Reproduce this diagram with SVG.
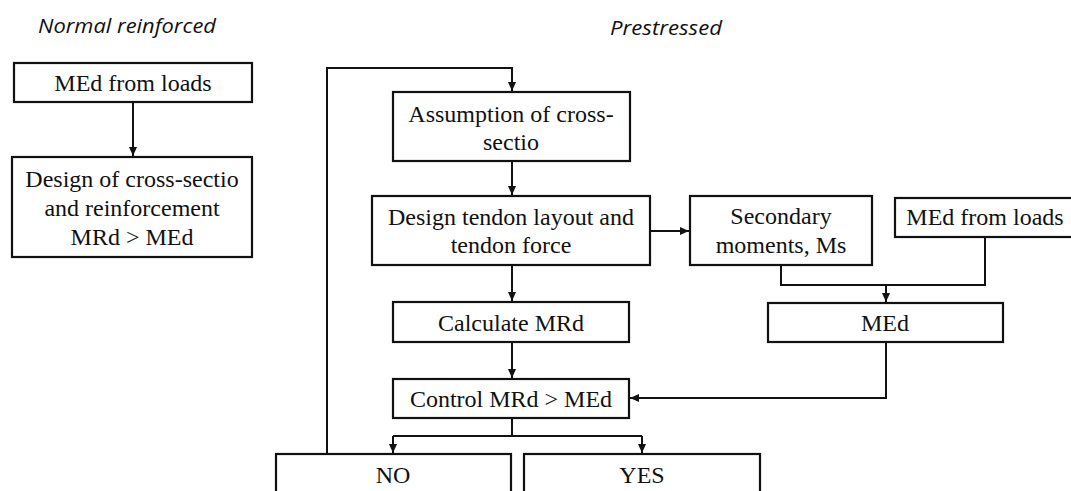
<svg xmlns="http://www.w3.org/2000/svg" width="1071" height="491" viewBox="0 0 1071 491">
<defs>
<marker id="arr" markerUnits="userSpaceOnUse" markerWidth="10" markerHeight="8" refX="9" refY="4" orient="auto">
<path d="M0,0 L9,4 L0,8 z" fill="#111"/>
</marker>
<style>
.box{fill:#fff;stroke:#111;stroke-width:2.2}
.t{font-family:"Liberation Serif","Times New Roman",serif;font-size:24px;fill:#111;text-anchor:middle}
.h{font-family:"Open Sans","DejaVu Sans",sans-serif;font-style:italic;font-size:20px;fill:#111}
.c{fill:none;stroke:#111;stroke-width:2}
</style>
</defs>
<rect width="1071" height="491" fill="#fff"/>
<text class="h" x="38" y="33" textLength="178" lengthAdjust="spacingAndGlyphs">Normal reinforced</text>
<text class="h" x="610" y="35" textLength="112" lengthAdjust="spacingAndGlyphs">Prestressed</text>
<g id="connectors">
<path class="c" d="M133,102 V156" marker-end="url(#arr)"/>
<path class="c" d="M327,454 V68 H512 V91" marker-end="url(#arr)"/>
<path class="c" d="M512,161 V195" marker-end="url(#arr)"/>
<path class="c" d="M512,265 V301" marker-end="url(#arr)"/>
<path class="c" d="M512,342 V378" marker-end="url(#arr)"/>
<path class="c" d="M650,231 H689" marker-end="url(#arr)"/>
<path class="c" d="M781,265 V285 H985 V237"/>
<path class="c" d="M886,285 V302" marker-end="url(#arr)"/>
<path class="c" d="M886,342 V398 H630" marker-end="url(#arr)"/>
<path class="c" d="M512,418 V436"/>
<path class="c" d="M393,436 H642"/>
<path class="c" d="M393,436 V453" marker-end="url(#arr)"/>
<path class="c" d="M642,436 V453" marker-end="url(#arr)"/>
</g>
<g id="n-loads-left">
<rect class="box" x="14" y="63" width="238" height="39"/>
<text class="t" x="133" y="91">MEd from loads</text>
</g>
<g id="n-design-cs">
<rect class="box" x="12" y="157" width="240" height="100"/>
<text class="t" x="132" y="187">Design of cross-sectio</text>
<text class="t" x="132" y="216">and reinforcement</text>
<text class="t" x="132" y="245">MRd &gt; MEd</text>
</g>
<g id="n-assumption">
<rect class="box" x="393" y="92" width="237" height="69"/>
<text class="t" x="511" y="122">Assumption of cross-</text>
<text class="t" x="511" y="150">sectio</text>
</g>
<g id="n-tendon">
<rect class="box" x="372" y="196" width="278" height="69"/>
<text class="t" x="511" y="225">Design tendon layout and</text>
<text class="t" x="511" y="253">tendon force</text>
</g>
<g id="n-secondary">
<rect class="box" x="690" y="196" width="182" height="69"/>
<text class="t" x="781" y="224">Secondary</text>
<text class="t" x="781" y="253">moments, Ms</text>
</g>
<g id="n-loads-right">
<rect class="box" x="895" y="198" width="180" height="39"/>
<text class="t" x="985" y="225">MEd from loads</text>
</g>
<g id="n-calc">
<rect class="box" x="393" y="302" width="236" height="40"/>
<text class="t" x="511" y="331">Calculate MRd</text>
</g>
<g id="n-med">
<rect class="box" x="768" y="303" width="235" height="39"/>
<text class="t" x="885" y="331">MEd</text>
</g>
<g id="n-control">
<rect class="box" x="393" y="379" width="236" height="39"/>
<text class="t" x="511" y="407">Control MRd &gt; MEd</text>
</g>
<g id="n-no">
<rect class="box" x="276" y="454" width="235" height="50"/>
<text class="t" x="393" y="483">NO</text>
</g>
<g id="n-yes">
<rect class="box" x="524" y="454" width="236" height="50"/>
<text class="t" x="642" y="483">YES</text>
</g>
</svg>
